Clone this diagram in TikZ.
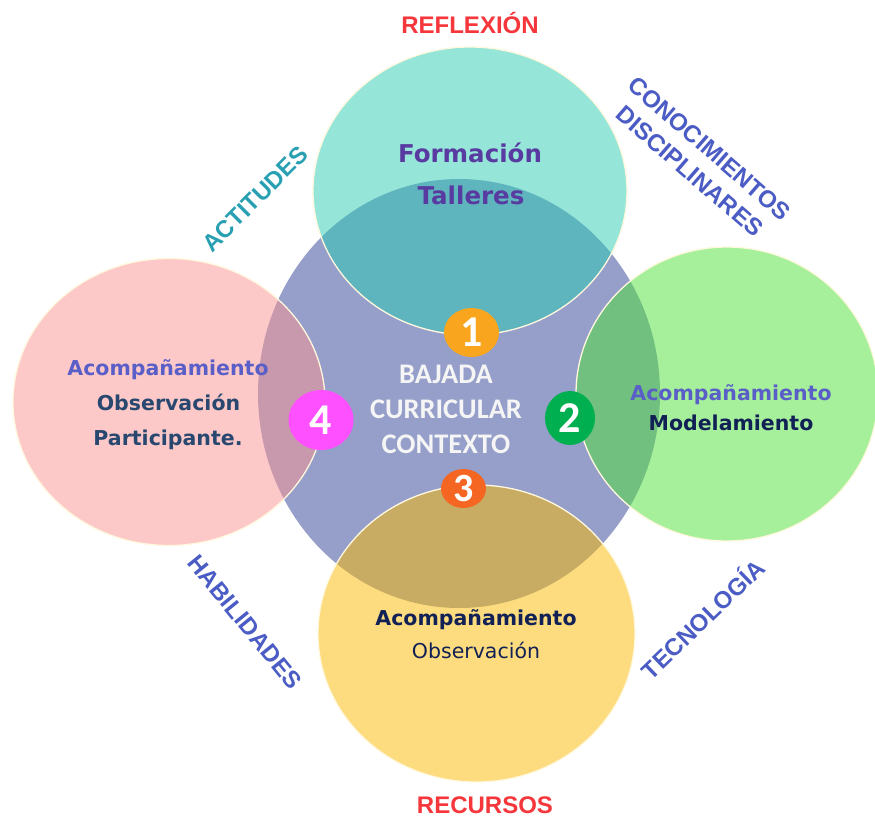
\documentclass[tikz,border=0pt]{standalone}
\usepackage{fontspec}
\setmainfont{DejaVu Sans}
\newfontfamily\arialb{Liberation Sans}
\newfontfamily\calib{Carlito}
\usetikzlibrary{shapes.geometric}
\definecolor{ctrblue}{RGB}{149,159,201}
\definecolor{tealc}{RGB}{43,203,179}
\definecolor{pinkc}{RGB}{251,147,145}
\definecolor{greenc}{RGB}{79,225,55}
\definecolor{yellowc}{RGB}{251,185,0}
\definecolor{rimc}{RGB}{255,248,222}
\definecolor{redl}{RGB}{245,55,60}
\definecolor{tealt}{RGB}{40,160,178}
\definecolor{bluet}{RGB}{75,92,196}
\definecolor{purplet}{RGB}{88,58,160}
\definecolor{violett}{RGB}{90,95,200}
\definecolor{slatet}{RGB}{40,72,112}
\definecolor{navyt}{RGB}{18,33,85}
\definecolor{onec}{RGB}{249,166,30}
\definecolor{twoc}{RGB}{0,176,80}
\definecolor{threec}{RGB}{245,102,35}
\definecolor{fourc}{RGB}{255,80,255}
\begin{document}
\begin{tikzpicture}[x=1pt,y=-1pt,line join=round,
	ring/.style={fill opacity=0.5,draw=rimc,line width=1.3pt},
	badge/.style={ellipse,inner sep=0pt,text=white,font=\calib\bfseries\fontsize{44}{44}\selectfont},
	lab/.style={inner sep=0pt,font=\arialb\bfseries\fontsize{24}{30}\selectfont},
	txt/.style={inner sep=0pt,anchor=base,font=\bfseries\fontsize{20.5}{24}\selectfont},
	mid/.style={inner sep=0pt,anchor=base,text=white!96!black,font=\calib\bfseries\fontsize{28.4}{34}\selectfont}]
	\useasboundingbox (0,0) rectangle (875,819);
	\fill[ctrblue] (459,393.5) ellipse [x radius=201pt, y radius=214.5pt];
	\filldraw[ring,fill=tealc] (470,191) ellipse [x radius=157pt, y radius=144pt];
	\filldraw[ring,fill=pinkc] (169,402) ellipse [x radius=156pt, y radius=143.5pt];
	\filldraw[ring,fill=greenc] (727,394) ellipse [x radius=151pt, y radius=147pt];
	\filldraw[ring,fill=yellowc] (476.5,633.5) ellipse [x radius=158.5pt, y radius=148.5pt];
	\node[badge,fill=onec,minimum width=55pt,minimum height=49pt] (n1) at (471.5,332.5) {1};
	\node[badge,fill=twoc,minimum width=50pt,minimum height=54pt] (n2) at (570,418) {2};
	\node[badge,fill=threec,minimum width=45pt,minimum height=39pt,font=\calib\bfseries\fontsize{40}{40}\selectfont] (n3) at (463.5,488.5) {3};
	\node[badge,fill=fourc,minimum width=65pt,minimum height=60pt] (n4) at (321,420) {4};
	\node[mid] (bajada) at (446,383) {BAJADA};
	\node[mid] (curricular) at (446,418) {CURRICULAR};
	\node[mid] (contexto) at (446,453) {CONTEXTO};
	\node[txt,text=purplet,font=\bfseries\fontsize{24.5}{28}\selectfont] (formacion) at (470,162) {Formación};
	\node[txt,text=purplet,font=\bfseries\fontsize{24.5}{28}\selectfont] (talleres) at (471,204) {Talleres};
	\node[txt,text=violett] (acompl) at (168,375) {Acompañamiento};
	\node[txt,text=slatet] (observl) at (168.5,410) {Observación};
	\node[txt,text=slatet] (particip) at (168,445) {Participante.};
	\node[txt,text=violett] (acompr) at (731,400) {Acompañamiento};
	\node[txt,text=navyt] (modela) at (731,430) {Modelamiento};
	\node[txt,text=navyt] (acompb) at (476,625) {Acompañamiento};
	\node[txt,text=navyt,font=\fontsize{20.5}{24}\selectfont] (observb) at (476,658) {Observación};
	\node[lab,text=redl,anchor=base] (reflexion) at (470,33) {REFLEXIÓN};
	\node[lab,text=redl,anchor=base] (recursos) at (485,813) {RECURSOS};
	\node[lab,text=tealt,rotate=45] (actitudes) at (255,199) {ACTITUDES};
	\node[lab,text=bluet,rotate=-41,align=center] (conoc) at (699.5,160) {CONOCIMIENTOS\\DISCIPLINARES};
	\node[lab,text=bluet,rotate=-51] (habil) at (245,622) {HABILIDADES};
	\node[lab,text=bluet,rotate=44] (tecno) at (702,618) {TECNOLOGÍA};
\end{tikzpicture}
\end{document}
